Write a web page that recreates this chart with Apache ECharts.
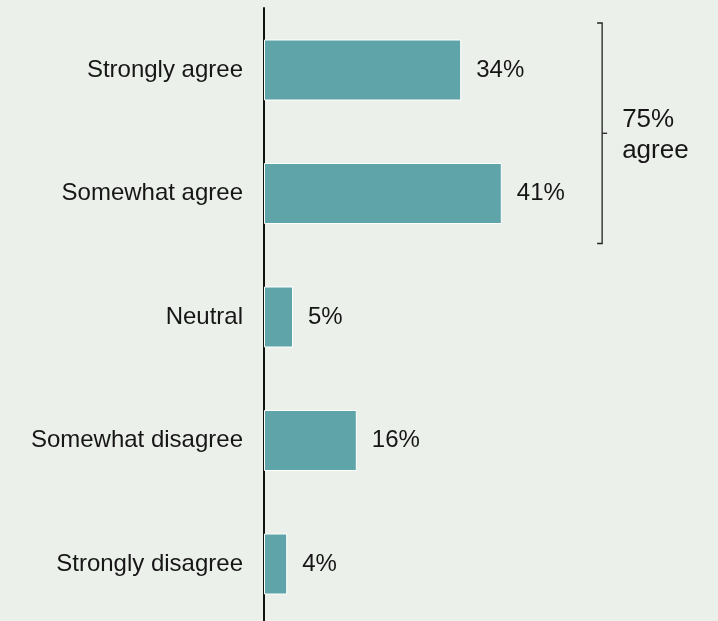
<!DOCTYPE html>
<html>
<head>
<meta charset="utf-8">
<script src="https://cdn.jsdelivr.net/npm/echarts@6/dist/echarts.min.js"></script>
<style>
  html, body { margin: 0; padding: 0; background: #ecf0eb; }
  #chart { width: 718px; height: 621px; }
</style>
</head>
<body>
<div id="chart"></div>
<script>
// Survey responses, top to bottom
const categories = ['Strongly agree', 'Somewhat agree', 'Neutral', 'Somewhat disagree', 'Strongly disagree'];
const shares = [34, 41, 5, 16, 4];
// Which responses the bracket groups together
const agreeGroup = [0, 1];
const agreeLabel = 'agree';

const FONT = '"Liberation Sans", Arial, Helvetica, sans-serif';
const TEXT = '#161616';

const chart = echarts.init(document.getElementById('chart'), null, { renderer: 'canvas' });

chart.setOption({
  backgroundColor: '#ecf0eb',
  animation: false,
  grid: [
    // full-height frame carrying the baseline axis line
    { left: 264, width: 406, top: 8, bottom: 0, containLabel: false },
    // bar area: categories sit on ticks from first to last bar centre
    { left: 264, width: 406, top: 70, height: 494, containLabel: false }
  ],
  xAxis: [
    { gridIndex: 0, type: 'value', min: 0, max: 70, show: false },
    { gridIndex: 1, type: 'value', min: 0, max: 70, show: false }
  ],
  yAxis: [
    {
      gridIndex: 0, type: 'category', data: [''],
      axisLine: { show: true, lineStyle: { color: '#111', width: 2 } },
      axisTick: { show: false }, axisLabel: { show: false }, splitLine: { show: false }
    },
    {
      gridIndex: 1, type: 'category', data: categories, inverse: true,
      boundaryGap: false,
      axisLine: { show: false },
      axisTick: { show: false },
      axisLabel: { color: TEXT, fontSize: 24, fontFamily: FONT, margin: 21 },
      splitLine: { show: false }
    }
  ],
  series: [{
    type: 'bar',
    xAxisIndex: 1, yAxisIndex: 1,
    data: shares,
    barWidth: 61,
    itemStyle: { color: '#5fa4a9', borderColor: '#ffffff', borderWidth: 1 },
    label: {
      show: true, position: 'right', distance: 15,
      formatter: p => p.value + '%',
      color: TEXT, fontSize: 24, fontFamily: FONT
    }
  }]
});

// Bracket summarising the agree responses, placed from the axis scales
function drawBracket() {
  const finder = { xAxisIndex: 1, yAxisIndex: 1 };
  const yTop = chart.convertToPixel({ yAxisIndex: 1 }, categories[agreeGroup[0]]) - 47;
  const yBot = chart.convertToPixel({ yAxisIndex: 1 }, categories[agreeGroup[agreeGroup.length - 1]]) + 50;
  const x = chart.convertToPixel({ xAxisIndex: 1 }, 58.3);
  const yMid = (yTop + yBot) / 2;
  const total = agreeGroup.reduce((s, i) => s + shares[i], 0);
  const stroke = { stroke: '#222', lineWidth: 1.3 };
  chart.setOption({
    graphic: [
      { type: 'polyline', shape: { points: [[x - 5, yTop], [x, yTop], [x, yBot], [x - 5, yBot]] }, style: Object.assign({ fill: null }, stroke), silent: true },
      { type: 'line', shape: { x1: x, y1: yMid, x2: x + 5, y2: yMid }, style: stroke, silent: true },
      {
        type: 'text', x: x + 20, y: yMid + 2,
        style: {
          text: total + '%\n' + agreeLabel,
          fill: TEXT, font: '26px ' + FONT,
          lineHeight: 31, verticalAlign: 'middle', align: 'left'
        },
        silent: true
      }
    ]
  });
}
drawBracket();
</script>
</body>
</html>
